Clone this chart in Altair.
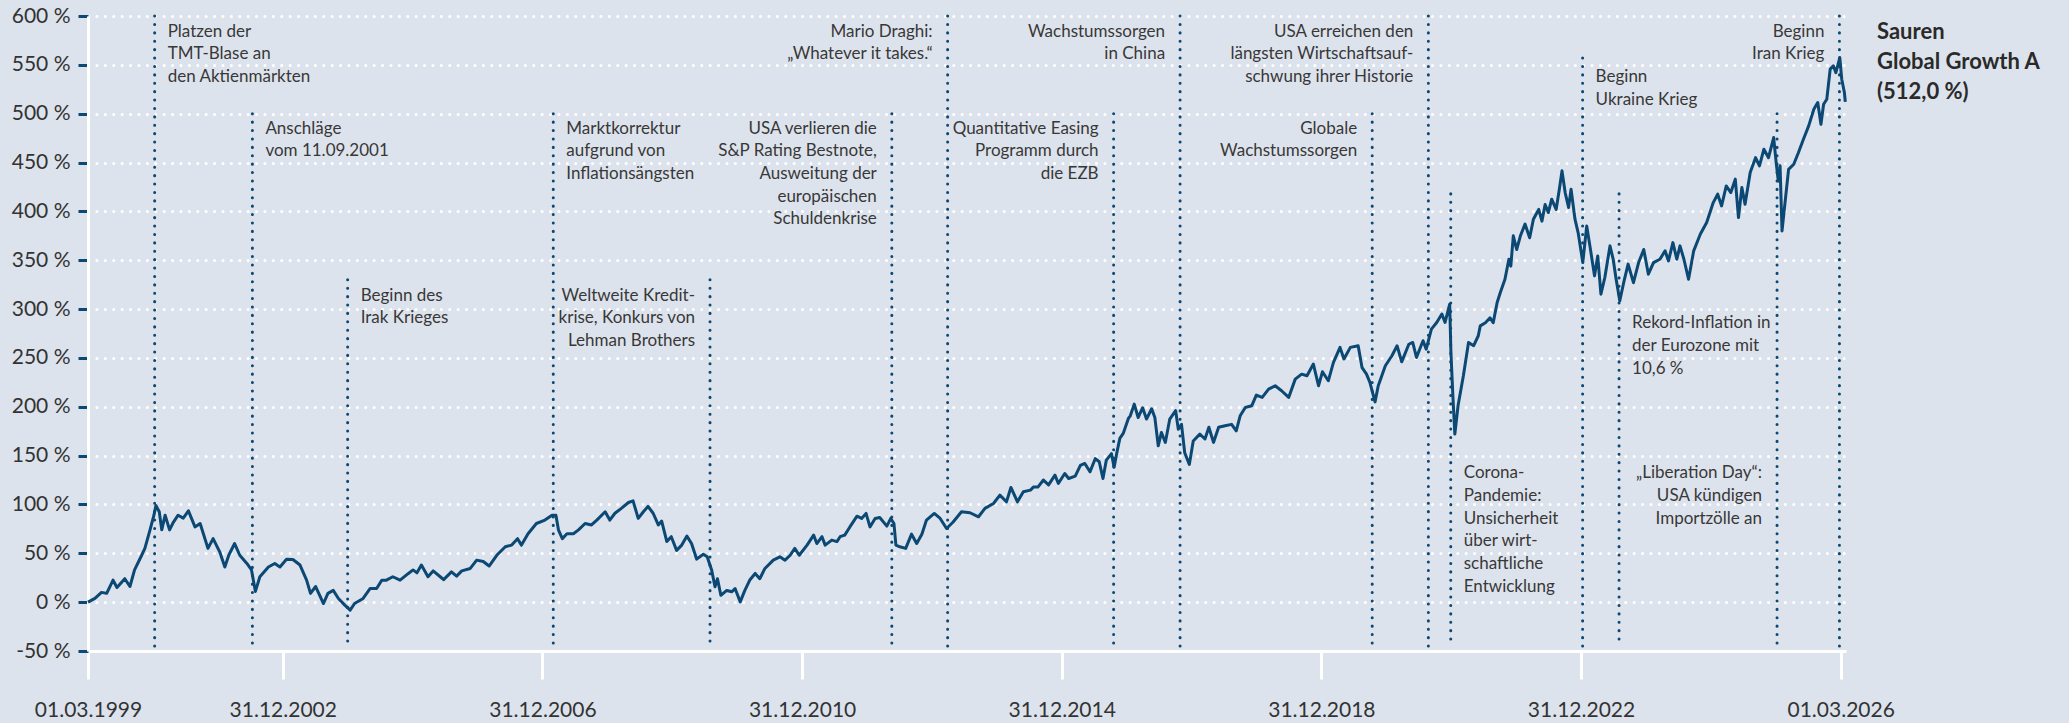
import altair as alt
import pandas as pd

# ---------------- data ----------------
years = [
    1999.162, 1999.27, 1999.37, 1999.45, 1999.55, 1999.61, 1999.73, 1999.81, 1999.88, 1999.99,
    2000.04, 2000.12, 2000.18, 2000.21, 2000.26, 2000.30, 2000.35, 2000.42, 2000.48, 2000.55,
    2000.63, 2000.71, 2000.81, 2000.89, 2001.01, 2001.09, 2001.19, 2001.27, 2001.33, 2001.42,
    2001.50, 2001.61, 2001.68, 2001.74, 2001.81, 2001.94, 2002.04, 2002.12, 2002.22, 2002.32,
    2002.43, 2002.53, 2002.59, 2002.67, 2002.79, 2002.86, 2002.94, 2003.02, 2003.12, 2003.20,
    2003.27, 2003.40, 2003.51, 2003.61, 2003.69, 2003.76, 2003.86, 2003.97, 2004.10, 2004.17,
    2004.23, 2004.30, 2004.40, 2004.48, 2004.59,
    2004.64, 2004.76, 2004.84, 2004.92, 2005.05, 2005.15, 2005.25, 2005.34, 2005.46, 2005.59,
    2005.69, 2005.78, 2005.84, 2005.94, 2006.07, 2006.20, 2006.31, 2006.37, 2006.41, 2006.47,
    2006.54, 2006.64, 2006.72, 2006.82, 2006.92, 2007.00, 2007.13, 2007.20, 2007.28, 2007.38,
    2007.49, 2007.56, 2007.64, 2007.72, 2007.79, 2007.87, 2007.95, 2008.00, 2008.08, 2008.15,
    2008.23, 2008.31, 2008.39, 2008.46, 2008.54, 2008.64, 2008.70, 2008.77, 2008.82, 2008.86,
    2008.91, 2009.00, 2009.08, 2009.13, 2009.21, 2009.28, 2009.36, 2009.44, 2009.51, 2009.59,
    2009.72, 2009.82, 2009.90, 2009.98,
    2010.05, 2010.12, 2010.24, 2010.34, 2010.39, 2010.47, 2010.52, 2010.62, 2010.70, 2010.75,
    2010.82, 2010.90, 2011.01, 2011.08, 2011.15, 2011.21, 2011.29, 2011.36, 2011.47, 2011.53,
    2011.58, 2011.61, 2011.67, 2011.76, 2011.85, 2011.93, 2012.01, 2012.08, 2012.20, 2012.29,
    2012.39, 2012.49, 2012.62, 2012.75, 2012.88, 2012.98, 2013.11, 2013.21, 2013.31, 2013.38,
    2013.48, 2013.57, 2013.68, 2013.73, 2013.80, 2013.88, 2013.96, 2014.06, 2014.11, 2014.21,
    2014.27, 2014.37, 2014.45, 2014.52, 2014.60, 2014.68, 2014.74, 2014.80, 2014.85, 2014.93,
    2014.97, 2015.01, 2015.06, 2015.11, 2015.19,
    2015.22, 2015.28, 2015.34, 2015.41, 2015.47, 2015.55, 2015.60, 2015.65, 2015.70, 2015.76,
    2015.83, 2015.92, 2015.96, 2016.01, 2016.06, 2016.13, 2016.19, 2016.29, 2016.37, 2016.43,
    2016.50, 2016.58, 2016.68, 2016.78, 2016.85, 2016.91, 2016.99, 2017.09, 2017.16, 2017.25,
    2017.35, 2017.45, 2017.55, 2017.66, 2017.76, 2017.86, 2017.94, 2018.04, 2018.12, 2018.18,
    2018.27, 2018.35, 2018.45, 2018.51, 2018.61, 2018.73, 2018.79, 2018.86, 2018.91, 2018.99,
    2019.04, 2019.15, 2019.25, 2019.33, 2019.40, 2019.51, 2019.57, 2019.63, 2019.73, 2019.78,
    2019.86, 2019.94, 2020.02, 2020.07, 2020.14, 2020.16, 2020.19, 2020.22, 2020.27, 2020.35,
    2020.43, 2020.51, 2020.58,
    2020.61, 2020.69, 2020.76, 2020.81, 2020.87, 2020.92, 2020.99, 2021.05, 2021.08, 2021.12,
    2021.17, 2021.23, 2021.30, 2021.37, 2021.43, 2021.51, 2021.56, 2021.61, 2021.66, 2021.71,
    2021.78, 2021.83, 2021.87, 2021.92, 2021.97, 2022.01, 2022.07, 2022.12, 2022.19, 2022.25,
    2022.30, 2022.37, 2022.42, 2022.47, 2022.53, 2022.61, 2022.66, 2022.70, 2022.76, 2022.82,
    2022.89, 2022.97, 2023.05, 2023.13, 2023.20, 2023.28, 2023.38, 2023.46, 2023.51, 2023.58,
    2023.64, 2023.69, 2023.75, 2023.82, 2023.90, 2024.00, 2024.10, 2024.20, 2024.27, 2024.33,
    2024.40, 2024.47, 2024.54, 2024.59, 2024.64, 2024.69, 2024.77, 2024.85, 2024.91, 2024.98,
    2025.05, 2025.13, 2025.17, 2025.20, 2025.23, 2025.26, 2025.31, 2025.36, 2025.44, 2025.51,
    2025.59, 2025.67, 2025.75, 2025.81, 2025.86, 2025.90, 2025.95, 2026.00, 2026.05, 2026.09,
    2026.15, 2026.18, 2026.22, 2026.235,
]
values = [
    0, 3.8, 10, 9, 22.5, 15, 24, 16, 33, 48,
    55, 74, 89, 99, 92.5, 74, 89, 74, 82, 89,
    86, 93.5, 77, 80.5, 55, 65, 51.5, 36, 48, 60,
    48, 39.6, 33, 11, 26, 36, 39.6, 36, 44, 43.7,
    38, 22.5, 9, 16, -1.4, 9, 12, 3.8, -3, -8.2,
    -1.4, 3.8, 14, 14, 22.5, 22.5, 26, 22.5, 29.4, 33,
    30, 38, 26, 32, 26,
    23, 31, 26.6, 32, 34.5, 43, 41.6, 37, 48, 56.7,
    58.4, 65, 58.4, 70, 80.5, 84, 89, 89, 74, 65,
    70, 70, 74, 80.5, 79, 84, 92.5, 84, 91, 96,
    102, 103.7, 85.7, 92.5, 98, 91, 79, 83, 62, 67,
    53, 58.4, 67.6, 60, 44, 49, 46.4, 33, 15.7, 24,
    7, 12, 10.6, 14, 0.3, 12, 23, 29.4, 24, 34.5,
    43, 46.4, 43, 48,
    55, 48, 58.4, 68.6, 60, 67, 58.4, 63.5, 62, 67,
    68.6, 77, 88, 85.7, 90.8, 77, 85.7, 86.7, 77.8, 85.7,
    80.5, 58.4, 56.7, 55, 69.6, 60, 69.6, 84, 90.8, 85.7,
    75.4, 82, 92.5, 91.5, 87.4, 96, 101, 109.6, 102.7, 117.4,
    102.7, 113, 114.7, 118, 118, 125, 120, 130, 121.5, 131.7,
    126.6, 129, 140, 142, 133.4, 147, 143.7, 126.6, 145.4, 152,
    138, 152, 167.6, 172.7, 188,
    190.8, 202.7, 189, 199, 187.4, 198, 189, 160, 173.7, 163.5,
    187.4, 196, 177, 182, 153, 141, 165, 172, 167, 179,
    163.5, 179, 180.5, 182, 175.4, 190.8, 199.3, 201, 212, 209.6,
    218, 221.5, 216.4, 209.6, 228.3, 233.4, 231.7, 243.7, 221.5, 235.8,
    226.6, 245.4, 260.8, 249, 260.8, 262.5, 240, 233.4, 225, 205,
    221.5, 242, 252.2, 262.5, 246, 264, 265.8, 250.5, 267.6, 259,
    279.5, 286.3, 295, 286.3, 305, 255.6, 211, 172, 201, 231.7,
    265.8, 262.5, 272.7,
    282.8, 286, 291, 286, 306.7, 317, 330.5, 351, 344, 375,
    361, 375, 387, 373, 392, 402, 390, 407, 398.8, 412.5,
    402, 422.7, 441.5, 419, 404, 422.7, 392, 378, 347.6, 385,
    364.7, 334, 354.4, 315.2, 332.3, 364.7, 351, 332.3, 308.4, 327,
    346, 327, 347.6, 361, 335.7, 347.6, 351, 359.6, 349.3, 368,
    351, 364.7, 351, 330.5, 359.6, 376.6, 388.6, 409, 417.6, 405.6,
    426, 419.3, 433, 393.7, 424.4, 407.3, 439.8, 455, 446.6, 463.6,
    455, 475.6, 448.3, 431, 446.6, 380, 412.5, 443, 448.3, 460,
    474, 487.5, 504.6, 511.4, 489.2, 509.7, 514.8, 545.6, 549, 542,
    557.5, 535.3, 521.7, 512.0,
]

event_dates = [
    "2000-03-10", "2001-09-11", "2003-03-01", "2006-05-01", "2008-09-29",
    "2011-07-19", "2012-05-28", "2014-12-18", "2015-12-27", "2018-12-12",
    "2019-10-24", "2020-02-27", "2022-03-10", "2022-10-01", "2025-03-08",
    "2026-02-22",
]
event_tops = [600, 500, 330, 500, 330, 500, 600, 500, 600, 500, 600, 418, 557, 418, 500, 600]
event_label_y = [584, 484.7, 313.6, 484.7, 313.6, 484.7, 584, 484.7, 584, 484.7, 584,
                 131.9, 537.3, 285.6, 131.9, 584]
event_sides = ["left", "left", "left", "left", "right", "right", "right", "right", "right",
               "right", "right", "left", "left", "left", "right", "right"]
event_labels = [
    "Platzen der\nTMT-Blase an\nden Aktienmärkten",
    "Anschläge\nvom 11.09.2001",
    "Beginn des\nIrak Krieges",
    "Marktkorrektur\naufgrund von\nInflationsängsten",
    "Weltweite Kredit-\nkrise, Konkurs von\nLehman Brothers",
    "USA verlieren die\nS&P Rating Bestnote,\nAusweitung der\neuropäischen\nSchuldenkrise",
    "Mario Draghi:\n„Whatever it takes.“",
    "Quantitative Easing\nProgramm durch\ndie EZB",
    "Wachstumssorgen\nin China",
    "Globale\nWachstumssorgen",
    "USA erreichen den\nlängsten Wirtschaftsauf-\nschwung ihrer Historie",
    "Corona-\nPandemie:\nUnsicherheit\nüber wirt-\nschaftliche\nEntwicklung",
    "Beginn\nUkraine Krieg",
    "Rekord-Inflation in\nder Eurozone mit\n10,6 %",
    "„Liberation Day“:\nUSA kündigen\nImportzölle an",
    "Beginn\nIran Krieg",
]

tick_dates = [(1999, 3, 1), (2002, 3, 1), (2006, 3, 1), (2010, 3, 1), (2014, 3, 1),
              (2018, 3, 1), (2022, 3, 1), (2026, 3, 1)]
tick_labels = ["01.03.1999", "31.12.2002", "31.12.2006", "31.12.2010", "31.12.2014",
               "31.12.2018", "31.12.2022", "01.03.2026"]
y_ticks = [-50, 0, 50, 100, 150, 200, 250, 300, 350, 400, 450, 500, 550, 600]

series_name = "Sauren\nGlobal Growth A"

# ---------------- build tables ----------------
def dec_to_date(y):
    yr = int(y)
    start = pd.Timestamp(year=yr, month=1, day=1)
    end = pd.Timestamp(year=yr + 1, month=1, day=1)
    return (start + (end - start) * (y - yr)).strftime("%Y-%m-%d")

series = pd.DataFrame({"date": [dec_to_date(y) for y in years], "value": values})
events = pd.DataFrame({
    "date": event_dates, "top": event_tops, "label_y": event_label_y,
    "side": event_sides, "label": event_labels,
})

last_txt = f"{values[-1]:.1f}".replace(".", ",")
legend_text = pd.DataFrame({"t": [f"{series_name}\n({last_txt} %)"]})

label_expr = ""
for (yy, mm, dd), lab in zip(tick_dates, tick_labels):
    label_expr += f"year(datum.value) == {yy} ? '{lab}' : "
label_expr += "''"

BLUE = "#0b4874"
BG = "#dde3ec"
TXT = "#383838"
FONT = "Lato"

x_scale = alt.Scale(domain=[alt.DateTime(year=1999, month=3, date=1),
                            alt.DateTime(year=2026, month=3, date=31)])
y_scale = alt.Scale(domain=[-50, 600], nice=False, zero=False)

x_axis = alt.Axis(values=[alt.DateTime(year=a, month=b, date=c) for a, b, c in tick_dates],
                  labelExpr=label_expr, title=None, labelFlush=False, labelOverlap=False)
y_axis = alt.Axis(values=y_ticks, labelExpr="datum.value + ' %'", title=None)

line = alt.Chart(series).mark_line(color=BLUE, strokeWidth=3, strokeJoin="round").encode(
    x=alt.X("date:T", scale=x_scale, axis=x_axis),
    y=alt.Y("value:Q", scale=y_scale, axis=y_axis),
)

rules = alt.Chart(events).mark_rule(
    color=BLUE, strokeWidth=3, strokeDash=[0.1, 8.3], strokeCap="round"
).encode(
    x=alt.X("date:T"),
    y=alt.Y("top:Q"),
    y2=alt.datum(-46),
)

txt_common = dict(baseline="top", dy=-8, lineBreak="\n", font=FONT, fontSize=17,
                  lineHeight=22.7, color=TXT)

text_left = alt.Chart(events).transform_filter("datum.side == 'left'").mark_text(
    align="left", dx=13, **txt_common
).encode(x=alt.X("date:T"), y=alt.Y("label_y:Q"), text="label:N")

text_right = alt.Chart(events).transform_filter("datum.side == 'right'").mark_text(
    align="right", dx=-15, **txt_common
).encode(x=alt.X("date:T"), y=alt.Y("label_y:Q"), text="label:N")

legend = alt.Chart(legend_text).mark_text(
    align="left", baseline="top", lineBreak="\n", font=FONT, fontSize=22,
    fontWeight="bold", lineHeight=30, color="#2a2a2a"
).encode(x=alt.value(1789), y=alt.value(6), text="t:N")

chart = alt.layer(line, rules, text_left, text_right, legend).properties(
    width=1758, height=635,
    autosize=alt.AutoSizeParams(type="none"),
    padding={"left": 88, "top": 16, "right": 223, "bottom": 72},
    background=BG,
).configure_view(strokeWidth=0).configure_axis(
    labelFont=FONT, labelFontSize=21, labelColor="#333333",
    domainColor="white", domainWidth=3,
).configure_axisX(
    grid=False, tickColor="white", tickWidth=3, tickSize=28, labelPadding=20,
    labelAngle=0,
).configure_axisY(
    grid=True, gridColor="white", gridDash=[0.1, 8.3], gridCap="round", gridWidth=3,
    tickColor=BLUE, tickWidth=3, tickSize=10, labelPadding=8,
)

chart.save("out.html", embed_options={"renderer": "svg", "actions": False})
